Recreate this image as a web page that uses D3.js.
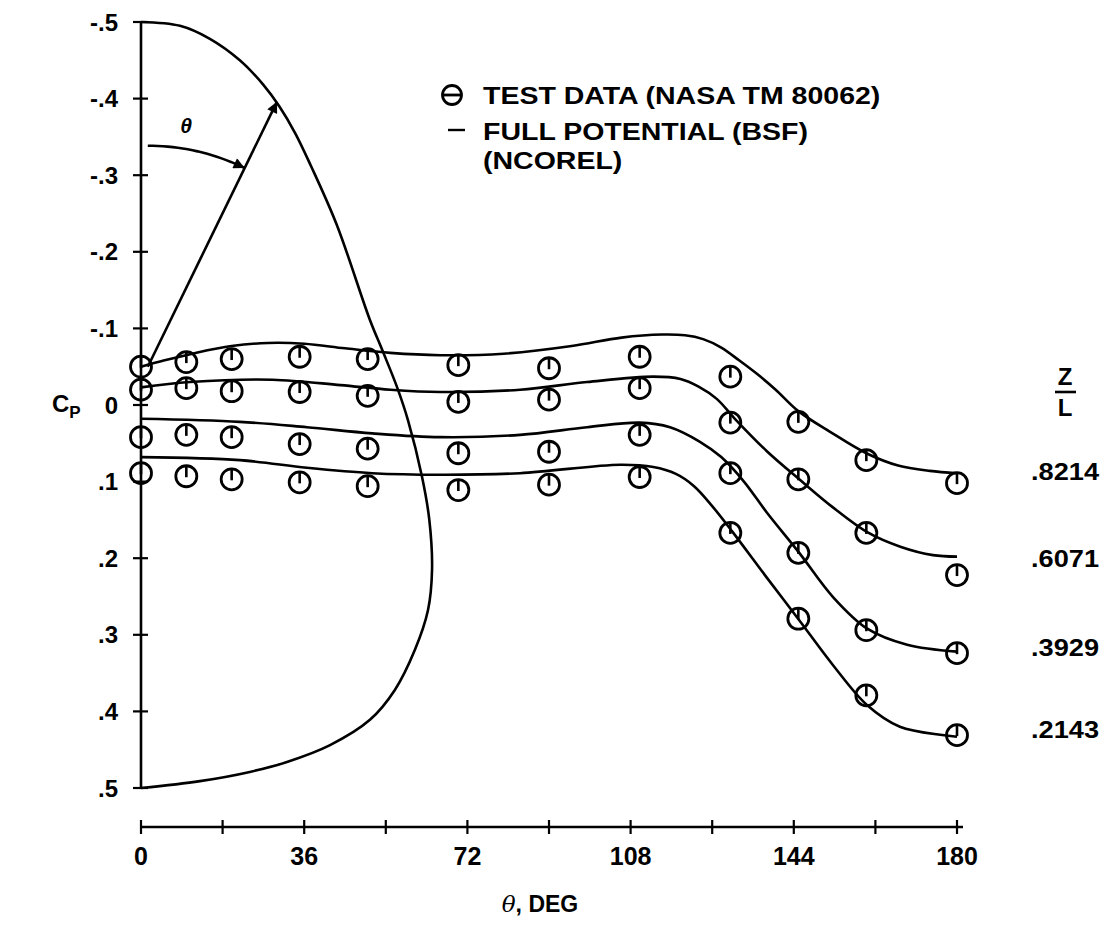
<!DOCTYPE html>
<html><head><meta charset="utf-8">
<script src="https://cdn.jsdelivr.net/npm/d3@7"></script>
<style>
html,body{margin:0;padding:0;background:#fff;}
svg text{font-family:"Liberation Sans",Arial,Helvetica,sans-serif;font-weight:bold;fill:#000;}
</style></head>
<body>
<svg id="chart" width="1107" height="929"></svg>
<script>
// ---------- DATA ----------
const thetaTicks = [0,18,36,54,72,90,108,126,144,162,180];
const thetaLabels = [0,36,72,108,144,180];
const cpTicks = [-0.5,-0.4,-0.3,-0.2,-0.1,0,0.1,0.2,0.3,0.4,0.5];
const cpTickLabels = ["-.5","-.4","-.3","-.2","-.1","0",".1",".2",".3",".4",".5"];

const testTheta = [0,10,20,35,50,70,90,110,130,145,160,180];
const zlLabels = [".8214",".6071",".3929",".2143"];
const zlLabelCp = [0.087,0.200,0.316,0.424];
const test_8214 = [-0.050,-0.056,-0.060,-0.063,-0.060,-0.052,-0.048,-0.063,-0.037,0.022,0.072,0.102];
const test_6071 = [-0.020,-0.022,-0.018,-0.017,-0.012,-0.004,-0.007,-0.022,0.023,0.097,0.167,0.222];
const test_3929 = [0.042,0.039,0.042,0.051,0.057,0.063,0.061,0.039,0.089,0.193,0.294,0.324];
const test_2143 = [0.089,0.093,0.097,0.101,0.106,0.111,0.104,0.094,0.167,0.279,0.379,0.431];

// full potential (NCOREL) curves: [theta, Cp]
const fp_8214 = [[0,-0.050],[5,-0.058],[12,-0.068],[20,-0.077],[28,-0.081],[36,-0.080],[45,-0.074],[55,-0.068],[66,-0.065],[80,-0.067],[95,-0.077],[106,-0.088],[115,-0.092],[120,-0.091],[124,-0.086],[128,-0.075],[132,-0.058],[136,-0.040],[140,-0.020],[145,0.008],[152,0.035],[160,0.063],[167,0.079],[174,0.086],[180,0.089]];
const fp_6071 = [[0,-0.023],[10.8,-0.030],[29,-0.033],[44,-0.026],[55,-0.020],[66,-0.017],[83.6,-0.020],[98.4,-0.030],[113,-0.037],[119,-0.034],[123,-0.024],[127,-0.008],[131,0.018],[138,0.060],[145.4,0.098],[152.7,0.134],[160.2,0.166],[167.5,0.185],[174.7,0.196],[180,0.198]];
const fp_3929 = [[0,0.018],[21.8,0.022],[36.6,0.029],[51,0.037],[66,0.042],[83.6,0.039],[98.4,0.029],[110,0.023],[116.7,0.029],[123.3,0.048],[128,0.068],[133,0.100],[138,0.140],[145.2,0.193],[152.7,0.251],[160.2,0.292],[169,0.313],[180,0.322]];
const fp_2143 = [[0,0.068],[21.8,0.072],[36.6,0.082],[51,0.089],[66,0.091],[83.6,0.089],[105.7,0.078],[113,0.081],[118,0.090],[122,0.106],[126,0.132],[130.4,0.165],[138,0.225],[145.2,0.281],[152.7,0.340],[160.2,0.392],[167.4,0.420],[180,0.433]];

// body cross-section sketch drawn in the same axes: [theta-axis units, Cp-axis units]
const bodyShape = [[0,-0.5],[8.6,-0.495],[15.2,-0.478],[21.8,-0.450],[27,-0.418],[30.5,-0.390],[34,-0.355],[37.5,-0.312],[43.2,-0.235],[50.5,-0.111],[53.2,-0.072],[56.5,-0.023],[58.9,0.020],[62,0.094],[63.6,0.150],[64.2,0.215],[63.3,0.268],[60.4,0.320],[56,0.372],[50.5,0.411],[41.7,0.444],[32.2,0.466],[24,0.479],[13,0.491],[0,0.5]];
const arrowBase = [1.5,-0.05];
const arrowTip = [30,-0.396];

const legendItems = ["TEST DATA (NASA TM 80062)","FULL POTENTIAL (BSF)","(NCOREL)"];

// ---------- DRAW ----------
const svg = d3.select("#chart");
const x = d3.scaleLinear().domain([0,180]).range([141,957]);
const y = d3.scaleLinear().domain([-0.5,0.5]).range([22,788]);
const SW = 2.6;

svg.append("defs").append("marker")
  .attr("id","ah").attr("viewBox","0 0 10 10").attr("refX",10).attr("refY",5)
  .attr("markerWidth",22).attr("markerHeight",11).attr("markerUnits","userSpaceOnUse")
  .attr("orient","auto")
  .append("path").attr("d","M0,0 L10,5 L0,10 z").attr("fill","#000");

// y axis
const yAxisX = x(0);
svg.append("line").attr("x1",yAxisX).attr("x2",yAxisX).attr("y1",y(-0.5)).attr("y2",y(0.5))
  .attr("stroke","#000").attr("stroke-width",SW);
svg.selectAll(".ytick").data(cpTicks).enter().append("line")
  .attr("x1",yAxisX-8).attr("x2",yAxisX+7).attr("y1",d=>y(d)).attr("y2",d=>y(d))
  .attr("stroke","#000").attr("stroke-width",2.2);
svg.selectAll(".ylab").data(cpTicks).enter().append("text")
  .attr("x",118).attr("y",d=>y(d)).attr("dy","0.36em").attr("text-anchor","end")
  .attr("font-size",24).text((d,i)=>cpTickLabels[i]);

// x axis (separate baseline)
const xAxisY = 827;
svg.append("line").attr("x1",x(0)).attr("x2",x(180)+6).attr("y1",xAxisY).attr("y2",xAxisY)
  .attr("stroke","#000").attr("stroke-width",SW);
svg.selectAll(".xtick").data(thetaTicks).enter().append("line")
  .attr("x1",d=>x(d)).attr("x2",d=>x(d)).attr("y1",xAxisY-7).attr("y2",xAxisY+7)
  .attr("stroke","#000").attr("stroke-width",2.2);
svg.selectAll(".xlab").data(thetaLabels).enter().append("text")
  .attr("x",d=>x(d)).attr("y",856).attr("dy","0.36em").attr("text-anchor","middle")
  .attr("font-size",25).text(d=>d);

// axis titles
const xt = svg.append("text").attr("x",540).attr("y",904).attr("dy","0.36em").attr("text-anchor","middle").attr("font-size",23);
xt.append("tspan").attr("font-family","'DejaVu Serif',serif").attr("font-style","italic").attr("font-weight","normal").text("θ");
xt.append("tspan").text(", DEG");
const yt = svg.append("text").attr("x",52).attr("y",412).attr("font-size",24);
yt.append("tspan").text("C");
yt.append("tspan").attr("font-size",17).attr("dy",6).text("P");

// body shape
const smooth = d3.line().x(d=>x(d[0])).y(d=>y(d[1])).curve(d3.curveCatmullRom.alpha(0.5));
svg.append("path").attr("d",smooth(bodyShape)).attr("fill","none").attr("stroke","#000").attr("stroke-width",SW);

// radial arrow
const bx = x(arrowBase[0]), by = y(arrowBase[1]), tx = x(arrowTip[0]), ty = y(arrowTip[1]);
svg.append("line").attr("x1",bx).attr("y1",by).attr("x2",tx).attr("y2",ty)
  .attr("stroke","#000").attr("stroke-width",SW).attr("marker-end","url(#ah)");
// theta arc centred at base of the arrow
const ang = Math.atan2(tx-bx, by-ty);
const R = 221;
const arcPts = d3.range(0,1.0001,0.05).map(t=>[bx+R*Math.sin(ang*t), by-R*Math.cos(ang*t)]);
svg.append("path").attr("d",d3.line()(arcPts)).attr("fill","none").attr("stroke","#000")
  .attr("stroke-width",SW).attr("marker-end","url(#ah)");
svg.append("text").attr("x",186).attr("y",133).attr("text-anchor","middle")
  .attr("font-family","'DejaVu Serif',serif").attr("font-style","italic").attr("font-weight","normal")
  .attr("font-size",21).text("θ");

// full potential curves
[fp_8214,fp_6071,fp_3929,fp_2143].forEach(c=>{
  svg.append("path").attr("d",smooth(c)).attr("fill","none").attr("stroke","#000").attr("stroke-width",SW);
});

// test data markers
const series = [test_8214,test_6071,test_3929,test_2143];
series.forEach(s=>{
  const g = svg.append("g");
  s.forEach((v,i)=>{
    const cx = x(testTheta[i]), cy = y(v);
    g.append("circle").attr("cx",cx).attr("cy",cy).attr("r",10.5).attr("fill","none")
      .attr("stroke","#000").attr("stroke-width",2.8);
    g.append("line").attr("x1",cx).attr("x2",cx).attr("y1",cy-10).attr("y2",cy+1)
      .attr("stroke","#000").attr("stroke-width",2.6);
  });
});

// Z/L labels
svg.append("text").attr("x",1065).attr("y",376).attr("dy","0.36em").attr("text-anchor","middle").attr("font-size",24).text("Z");
svg.append("line").attr("x1",1055).attr("x2",1076).attr("y1",392).attr("y2",392).attr("stroke","#000").attr("stroke-width",2.6);
svg.append("text").attr("x",1065).attr("y",407).attr("dy","0.36em").attr("text-anchor","middle").attr("font-size",24).text("L");
svg.selectAll(".zl").data(zlLabels).enter().append("text")
  .attr("x",1065).attr("y",(d,i)=>y(zlLabelCp[i])).attr("dy","0.36em").attr("text-anchor","middle")
  .attr("font-size",24).attr("textLength",68).attr("lengthAdjust","spacingAndGlyphs").text(d=>d);

// legend
const lg = svg.append("g");
lg.append("circle").attr("cx",452).attr("cy",95).attr("r",9.5).attr("fill","none").attr("stroke","#000").attr("stroke-width",2.8);
lg.append("line").attr("x1",443).attr("x2",461).attr("y1",95).attr("y2",95).attr("stroke","#000").attr("stroke-width",2.8);
lg.append("line").attr("x1",448).attr("x2",465).attr("y1",130).attr("y2",130).attr("stroke","#000").attr("stroke-width",2.4);
const legY = [95,131,160];
const legT = lg.selectAll("text").data(legendItems).enter().append("text")
  .attr("x",483).attr("y",(d,i)=>legY[i]).attr("dy","0.36em").attr("font-size",24).text(d=>d);
// stretch legend text to the reference's wider lettering
const nat = legT.nodes().map(n=>n.getComputedTextLength());
const k = 325/nat[1];
legT.attr("textLength",(d,i)=>nat[i]*k).attr("lengthAdjust","spacingAndGlyphs");
</script>
</body></html>
